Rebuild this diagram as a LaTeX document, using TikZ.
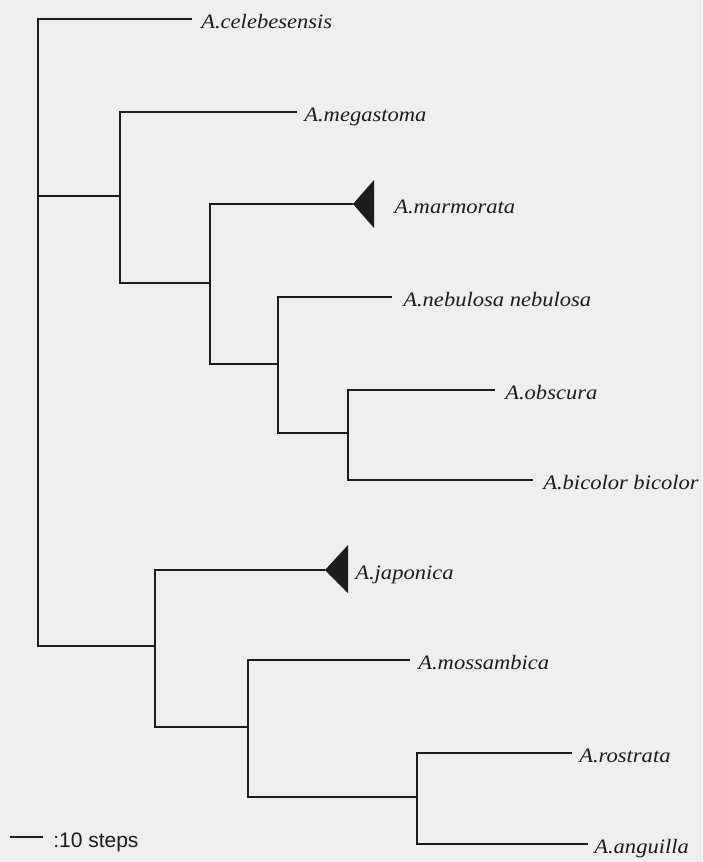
\documentclass[tikz,border=0pt]{standalone}
\usepackage{fontspec}
\newfontfamily\taxfont{Liberation Serif}[FakeStretch=1.1]
\newfontfamily\barfont{Liberation Sans}
\definecolor{paper}{RGB}{239,239,239}
\definecolor{ink}{RGB}{28,28,28}

\begin{document}
\begin{tikzpicture}[x=1pt,y=-1pt,line width=2.6pt,draw=ink,
  taxon/.style={anchor=base west,inner sep=0pt,text=ink,font=\taxfont\itshape\fontsize{20.5}{23}\selectfont},
  clade/.style={fill=ink,line width=0pt}]
\path[use as bounding box,fill=paper] (0,0) rectangle (702,862);
% inner nodes
\coordinate (nA) at (38,196);
\coordinate (nB) at (120,196);
\coordinate (nC) at (210,283);
\coordinate (nD) at (278,364);
\coordinate (nE) at (348,433);
\coordinate (nF) at (155,646);
\coordinate (nG) at (248,727);
\coordinate (nH) at (417,797);
% tips
\coordinate (t-cel) at (192,19);
\coordinate (t-meg) at (297,112);
\coordinate (t-mar) at (353,204);
\coordinate (t-neb) at (392,297);
\coordinate (t-obs) at (495,390);
\coordinate (t-bic) at (533,480);
\coordinate (t-jap) at (325,570);
\coordinate (t-mos) at (410,660);
\coordinate (t-ros) at (572,753);
\coordinate (t-ang) at (588,844);
% labels
\node[taxon] (cel) at ([shift={(8,9)}]t-cel) {A.celebesensis};
\node[taxon] (meg) at ([shift={(6,9)}]t-meg) {A.megastoma};
\node[taxon] (mar) at ([shift={(40,9)}]t-mar) {A.marmorata};
\node[taxon] (neb) at ([shift={(10,9)}]t-neb) {A.nebulosa nebulosa};
\node[taxon] (obs) at ([shift={(9,9)}]t-obs) {A.obscura};
\node[taxon] (bic) at ([shift={(9,9)}]t-bic) {A.bicolor bicolor};
\node[taxon] (jap) at ([shift={(29,9)}]t-jap) {A.japonica};
\node[taxon] (mos) at ([shift={(7,9)}]t-mos) {A.mossambica};
\node[taxon] (ros) at ([shift={(6,9)}]t-ros) {A.rostrata};
\node[taxon] (ang) at ([shift={(5,9)}]t-ang) {A.anguilla};
% branches
\draw (nA) |- (t-cel);
\draw (nA) -- (nB);
\draw (nA) |- (nF);
\draw (nB) |- (t-meg);
\draw (nB) |- (nC);
\draw (nC) |- (t-mar);
\draw (nC) |- (nD);
\draw (nD) |- (t-neb);
\draw (nD) |- (nE);
\draw (nE) |- (t-obs);
\draw (nE) |- (t-bic);
\draw (nF) |- (t-jap);
\draw (nF) |- (nG);
\draw (nG) |- (t-mos);
\draw (nG) |- (nH);
\draw (nH) |- (t-ros);
\draw (nH) |- (t-ang);
% collapsed clades
\fill[clade] (t-mar) -- ++(21,-24) -- ++(0,48) -- cycle;
\fill[clade] (t-jap) -- ++(23,-25) -- ++(0,48) -- cycle;
% scale
\coordinate (sb-l) at (10,837);
\coordinate (sb-r) at (43,837);
\draw (sb-l) -- (sb-r);
\node[anchor=base west,inner sep=0pt,text=ink,font=\barfont\fontsize{21}{23}\selectfont] (steps) at ([shift={(9,10)}]sb-r) {:10 steps};
\end{tikzpicture}
\end{document}
